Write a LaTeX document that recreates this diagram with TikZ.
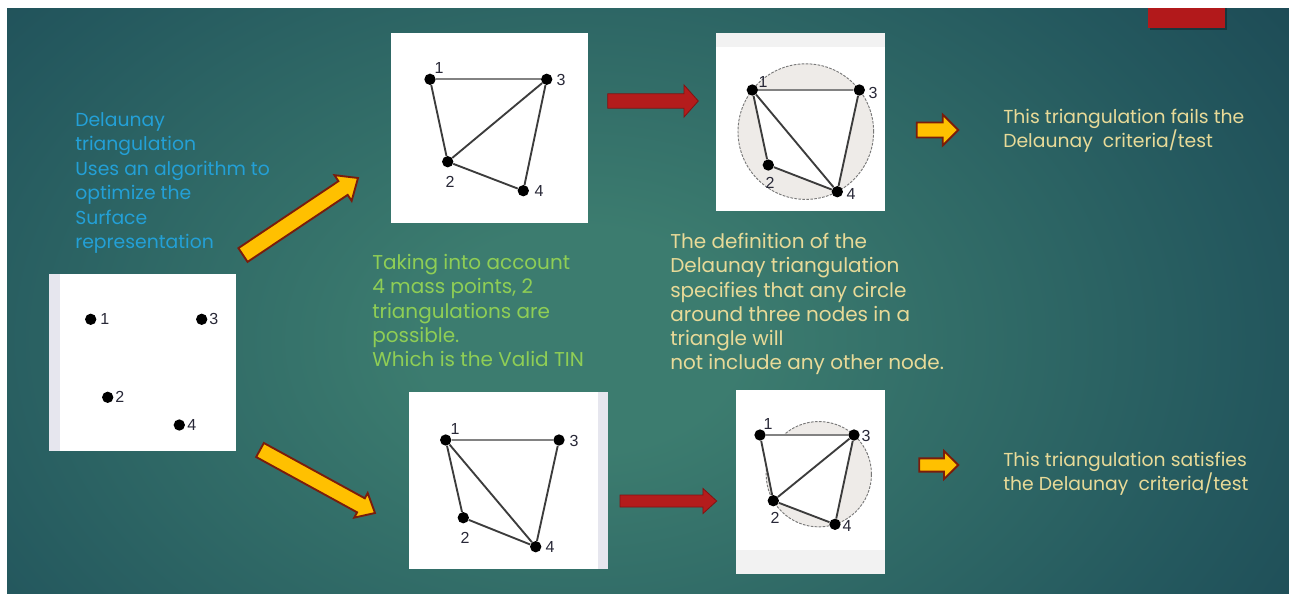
\documentclass[tikz,border=0pt]{standalone}
\usepackage{fontspec}
\setmainfont{Poppins}
\newfontfamily\lblfont{Liberation Sans}
\usetikzlibrary{calc}

\definecolor{bgin}{RGB}{60,124,111}
\definecolor{bgmid}{RGB}{36,88,94}
\definecolor{bgout}{RGB}{19,56,74}
\definecolor{bluetxt}{RGB}{35,160,215}
\definecolor{greentxt}{RGB}{143,206,85}
\definecolor{khaki}{RGB}{232,218,152}
\definecolor{arrowyellow}{RGB}{255,192,0}
\definecolor{arrowborder}{RGB}{122,28,12}
\definecolor{arrowred}{RGB}{180,28,28}
\definecolor{arrowredborder}{RGB}{130,18,18}
\definecolor{edgegray}{RGB}{60,60,60}
\definecolor{edgelight}{RGB}{130,130,130}
\definecolor{lblcol}{RGB}{40,40,55}
\definecolor{circgray}{RGB}{120,120,120}
\definecolor{circfill}{RGB}{238,235,232}
\definecolor{stripcol}{RGB}{230,230,238}
\definecolor{bandcol}{RGB}{242,242,242}
\definecolor{redbox}{RGB}{178,25,27}

\pgfdeclareradialshading{bgshade}{\pgfpoint{0bp}{0bp}}{color(0bp)=(bgin); color(5bp)=(bgin); color(21bp)=(bgmid); color(36bp)=(bgout); color(50bp)=(bgout)}

\newcommand{\blockarrow}[6]{%
  \coordinate (#3hb) at ($(#3)!#6!(#2)$);
  \draw[#1] ($(#2)!#4!90:(#3)$) -- ($(#3hb)!#4!90:(#3)$) -- ($(#3hb)!#5!90:(#3)$) -- (#3)
    -- ($(#3hb)!#5!-90:(#3)$) -- ($(#3hb)!#4!-90:(#3)$) -- ($(#2)!#4!-90:(#3)$) -- cycle;}

\tikzset{
  ptdot/.style={circle, fill=black, inner sep=0pt, minimum size=8.5pt},
  tri/.style={draw=edgegray, line width=1.4pt},
  trilight/.style={draw=edgelight, line width=1.4pt},
  lbl/.style={font=\lblfont\fontsize{12}{14}\selectfont, text=lblcol, inner sep=0pt},
  circ/.style={draw=circgray, line width=0.7pt, fill=circfill, dash pattern=on 2pt off 1pt},
  txt/.style={anchor=north west, align=left, inner sep=0pt, font=\fontsize{15}{18.2}\selectfont},
  txtsmall/.style={anchor=north west, align=left, inner sep=0pt, font=\fontsize{14.1}{18.4}\selectfont},
  yarrow/.style={fill=arrowyellow, draw=arrowborder, line width=1.4pt, line join=miter},
  rarrow/.style={fill=arrowred, draw=arrowredborder, line width=0.6pt, line join=miter},
  panel/.style={fill=white}
}

\begin{document}
\begin{tikzpicture}[x=0.75pt,y=-0.75pt]
\useasboundingbox (0,0) rectangle (1289,597);
\fill[white] (0,0) rectangle (1289,597);
% background
\begin{scope}
\clip (7,8) rectangle (1289,593);
\fill[bgout] (7,8) rectangle (1289,593);
\begin{scope}[transform canvas={shift={(580,340)}, yscale=0.7}]
\shade[shading=bgshade] (-800,-800) rectangle (800,800);
\end{scope}
\end{scope}
% red box top right
\fill[black, opacity=0.3] (1150,8) rectangle (1227,30);
\fill[redbox] (1148,8) rectangle (1225,28);

% ---------- texts
\node[txtsmall, text=bluetxt] (tblue) at (75,112) {Delaunay\\triangulation\\Uses an algorithm to\\optimize the\\Surface\\representation};
\node[txt, text=greentxt] (tgreen) at (372,254) {Taking into account\\4 mass points, 2\\triangulations are\\possible.\\Which is the Valid TIN};
\node[txt, text=khaki] (tdef) at (670,233) {The definition of the\\Delaunay triangulation\\specifies that any circle\\around three nodes in a\\triangle will\\not include any other node.};
\node[txtsmall, text=khaki] (tfail) at (1003,108.5) {This triangulation fails the\\Delaunay~ criteria/test};
\node[txtsmall, text=khaki] (tsat) at (1003,451.5) {This triangulation satisfies\\the Delaunay~ criteria/test};

% ---------- panel 0 (points only)
\fill[panel] (49,274) rectangle (236,451);
\fill[stripcol] (49,274) rectangle (60,451);
\node[ptdot] (a1) at (90.7,319.3) {};
\node[ptdot] (a3) at (201.7,319.3) {};
\node[ptdot] (a2) at (107.7,397.3) {};
\node[ptdot] (a4) at (179.3,425) {};
\node[lbl, anchor=west] (la1) at (100,319.3) {1};
\node[lbl, anchor=west] (la3) at (209,319.3) {3};
\node[lbl, anchor=west] (la2) at (115,397.3) {2};
\node[lbl, anchor=west] (la4) at (187,425) {4};

% ---------- panel 1 (top middle)
\fill[panel] (391,33) rectangle (588,223);
\node[ptdot] (b1) at (430,79.3) {};
\node[ptdot] (b3) at (546.7,79.3) {};
\node[ptdot] (b2) at (447.7,161.7) {};
\node[ptdot] (b4) at (523.3,190.7) {};
\draw[trilight] (b1) -- (b3);
\draw[tri] (b1) -- (b2);
\draw[tri] (b2) -- (b3);
\draw[tri] (b3) -- (b4);
\draw[tri] (b2) -- (b4);
\node[lbl] (lb1) at (439,68) {1};
\node[lbl] (lb3) at (561,80) {3};
\node[lbl] (lb2) at (450,182) {2};
\node[lbl] (lb4) at (539,191) {4};

% ---------- panel 2 (top right, fails)
\fill[panel] (716,33) rectangle (885,211);
\fill[bandcol] (716,33) rectangle (885,47);
\coordinate (pc1) at (752.3,90);
\coordinate (pc3) at (859.3,90);
\coordinate (pc2) at (768.3,165);
\coordinate (pc4) at (837.3,191.7);
\node[circ, circle, minimum size=101.7pt, inner sep=0pt] (cc) at (805.8,131.6) {};
\fill[white] (pc1) -- (pc3) -- (pc4) -- (pc2) -- cycle;
\node[ptdot] (c1) at (pc1) {};
\node[ptdot] (c3) at (pc3) {};
\node[ptdot] (c2) at (pc2) {};
\node[ptdot] (c4) at (pc4) {};
\draw[trilight] (c1) -- (c3);
\draw[tri] (c1) -- (c2);
\draw[tri] (c1) -- (c4);
\draw[tri] (c3) -- (c4);
\draw[tri] (c2) -- (c4);
\node[lbl] (lc1) at (763,82) {1};
\node[lbl] (lc3) at (873,93) {3};
\node[lbl] (lc2) at (770,183) {2};
\node[lbl] (lc4) at (851,194) {4};

% ---------- panel 3 (bottom middle)
\fill[panel] (409,392) rectangle (608,569);
\fill[stripcol] (598,392) rectangle (608,569);
\node[ptdot] (d1) at (445.7,440) {};
\node[ptdot] (d3) at (559,440) {};
\node[ptdot] (d2) at (463.3,517.7) {};
\node[ptdot] (d4) at (535.7,546.7) {};
\draw[trilight] (d1) -- (d3);
\draw[tri] (d1) -- (d2);
\draw[tri] (d1) -- (d4);
\draw[tri] (d3) -- (d4);
\draw[tri] (d2) -- (d4);
\node[lbl] (ld1) at (455,429) {1};
\node[lbl] (ld3) at (574,441) {3};
\node[lbl] (ld2) at (465,538) {2};
\node[lbl] (ld4) at (550,547) {4};

% ---------- panel 4 (bottom right, satisfies)
\fill[panel] (736,390) rectangle (885,574);
\fill[bandcol] (736,550) rectangle (885,574);
\coordinate (pe1) at (760,435);
\coordinate (pe3) at (854,435);
\coordinate (pe2) at (773.3,500.7);
\coordinate (pe4) at (835,524.3);
\node[circ, circle, minimum size=79pt, inner sep=0pt] (ce) at (818.8,474.2) {};
\fill[white] (pe1) -- (pe3) -- (pe4) -- (pe2) -- cycle;
\node[ptdot] (e1) at (pe1) {};
\node[ptdot] (e3) at (pe3) {};
\node[ptdot] (e2) at (pe2) {};
\node[ptdot] (e4) at (pe4) {};
\draw[trilight] (e1) -- (e3);
\draw[tri] (e1) -- (e2);
\draw[tri] (e2) -- (e3);
\draw[tri] (e3) -- (e4);
\draw[tri] (e2) -- (e4);
\node[lbl] (le1) at (768,424) {1};
\node[lbl] (le3) at (866,436) {3};
\node[lbl] (le2) at (775,518) {2};
\node[lbl] (le4) at (847,526) {4};

% ---------- arrows
\coordinate (y1t) at (243,255);   \coordinate (y1h) at (358,178);
\coordinate (y2t) at (260,450);   \coordinate (y2h) at (375,513);
\coordinate (r1t) at (607.7,101); \coordinate (r1h) at (698.3,101);
\coordinate (r2t) at (620,501);   \coordinate (r2h) at (716.7,501);
\coordinate (y3t) at (916.7,130); \coordinate (y3h) at (958.3,130);
\coordinate (y4t) at (919.3,465); \coordinate (y4h) at (958.3,465);
\blockarrow{yarrow}{y1t}{y1h}{6.2pt}{11.6pt}{13.5pt}
\blockarrow{yarrow}{y2t}{y2h}{6pt}{10.5pt}{12pt}
\blockarrow{rarrow}{r1t}{r1h}{5.4pt}{12pt}{10.7pt}
\blockarrow{rarrow}{r2t}{r2h}{4.5pt}{9.4pt}{10.3pt}
\blockarrow{yarrow}{y3t}{y3h}{5.6pt}{11.6pt}{11.7pt}
\blockarrow{yarrow}{y4t}{y4h}{5pt}{10.5pt}{10.7pt}
\end{tikzpicture}
\end{document}
